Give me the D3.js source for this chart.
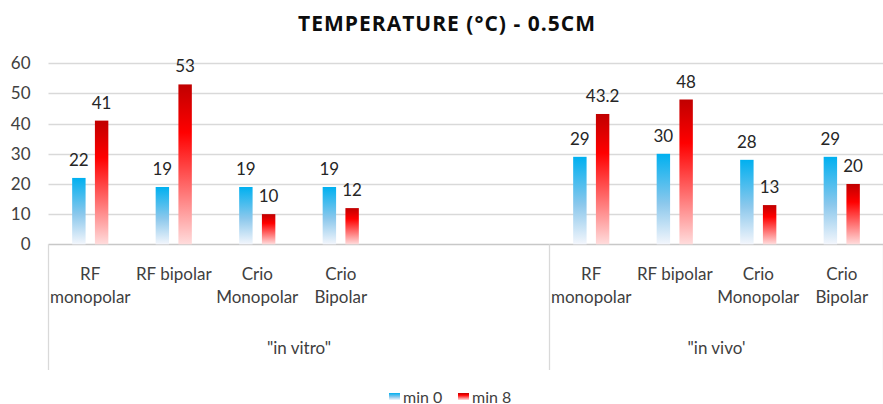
<!DOCTYPE html>
<html>
<head>
<meta charset="utf-8">
<script src="https://cdn.jsdelivr.net/npm/d3@7"></script>
<style>
  body { margin: 0; background: #fff; }
  svg text { font-family: Lato, "Open Sans", sans-serif; }
</style>
</head>
<body>
<div id="container"></div>
<script>
/* DATA */
const categories = ["RF\nmonopolar", "RF bipolar", "Crio\nMonopolar", "Crio\nBipolar", "", "",
                    "RF\nmonopolar", "RF bipolar", "Crio\nMonopolar", "Crio\nBipolar"];
const groupLabels = ['"in vitro"', '"in vivo\''];
const groupSizes = [6, 4];
const seriesNames = ["min 0", "min 8"];
const min0 = [22, 19, 19, 19, null, null, 29, 30, 28, 29];
const min8 = [41, 53, 10, 12, null, null, 43.2, 48, 13, 20];
const yTicks = [0, 10, 20, 30, 40, 50, 60];

/* CONSTANTS */
const width = 883;
const height = 404;
const plotLeft = 48.5, plotRight = 883.5, plotTop = 63.3, plotBottom = 244.3;

const svg = d3.select("#container")
  .append("svg")
  .attr("width", width)
  .attr("height", height)

/* GRADIENTS */
const defs = svg.append("defs")
const blue = defs.append("linearGradient").attr("id", "gBlue")
  .attr("x1", 0).attr("y1", 0).attr("x2", 0).attr("y2", 1)
blue.append("stop").attr("offset", "0%").attr("stop-color", "#00B0F0")
blue.append("stop").attr("offset", "55%").attr("stop-color", "#8CC8EC")
blue.append("stop").attr("offset", "100%").attr("stop-color", "#F3F6FC")
const red = defs.append("linearGradient").attr("id", "gRed")
  .attr("x1", 0).attr("y1", 0).attr("x2", 0).attr("y2", 1)
red.append("stop").attr("offset", "0%").attr("stop-color", "#C00000")
red.append("stop").attr("offset", "30%").attr("stop-color", "#FF0000")
red.append("stop").attr("offset", "100%").attr("stop-color", "#FFDCDC")
const fills = ["url(#gBlue)", "url(#gRed)"];

/* SCALES */
const keys = categories.map((c, i) => i);
const xScale = d3.scaleBand().domain(keys).range([plotLeft, plotRight]).padding(0)
const xInner = d3.scaleBand().domain([0, 1]).range([0, xScale.bandwidth()])
  .paddingInner(0.41).paddingOuter(1.04)
const yScale = d3.scaleLinear().domain([0, 60]).range([plotBottom, plotTop])

/* TITLE */
svg.append("text")
  .attr("x", 446.5).attr("y", 31)
  .attr("text-anchor", "middle")
  .style("font-family", "'Open Sans', sans-serif")
  .style("font-weight", "bold")
  .style("font-size", "21px")
  .attr("textLength", 297)
  .attr("lengthAdjust", "spacing")
  .attr("fill", "#0d0d0d")
  .text("TEMPERATURE (°C) - 0.5CM")

/* GRID */
svg.append("g")
  .selectAll("line")
  .data(yTicks)
  .join("line")
  .attr("x1", plotLeft).attr("x2", plotRight)
  .attr("y1", d => Math.round(yScale(d)) + 0.5)
  .attr("y2", d => Math.round(yScale(d)) + 0.5)
  .attr("stroke", d => d === 0 ? "#c8c8c8" : "#d9d9d9")
  .attr("stroke-width", 1.3)

/* Y AXIS */
const yAxis = d3.axisLeft(yScale).tickValues(yTicks).tickSize(0).tickPadding(18)
svg.append("g")
  .attr("transform", `translate(${plotLeft}, 0)`)
  .call(yAxis)
  .call(g => g.select(".domain").remove())
  .selectAll("text")
  .style("font-size", "17px")
  .style("font-family", "Lato, sans-serif")
  .attr("fill", "#404040")

/* BARS */
const series = [min0, min8];
series.forEach((vals, s) => {
  const pts = vals.map((v, i) => ({ i, v })).filter(d => d.v !== null)
  svg.selectAll(".bar" + s)
    .data(pts)
    .join("rect")
    .attr("class", "bar" + s)
    .attr("x", d => xScale(d.i) + xInner(s))
    .attr("y", d => yScale(d.v))
    .attr("width", xInner.bandwidth())
    .attr("height", d => yScale(0) - yScale(d.v))
    .attr("fill", fills[s])

  svg.selectAll(".lab" + s)
    .data(pts)
    .join("text")
    .attr("class", "lab" + s)
    .attr("x", d => xScale(d.i) + xInner(s) + xInner.bandwidth() / 2)
    .attr("y", d => yScale(d.v) - 12)
    .attr("text-anchor", "middle")
    .style("font-size", "17px")
    .attr("fill", "#262626")
    .text(d => d.v)
})

/* CATEGORY AXIS */
const axisBottom = 370;
let start = 0;
const bounds = [xScale(0)];
groupSizes.forEach(n => { start += n; bounds.push(xScale(start - 1) + xScale.bandwidth()) })
svg.append("g")
  .selectAll("line")
  .data(bounds)
  .join("line")
  .attr("x1", d => d).attr("x2", d => d)
  .attr("y1", plotBottom).attr("y2", axisBottom)
  .attr("stroke", "#d9d9d9")
  .attr("stroke-width", 1.3)

const catG = svg.append("g")
  .selectAll("text")
  .data(categories.map((c, i) => ({ c, i })).filter(d => d.c))
  .join("text")
  .attr("text-anchor", "middle")
  .style("font-size", "17px")
  .attr("fill", "#404040")
catG.selectAll("tspan")
  .data(d => d.c.split("\n").map(t => ({ t, i: d.i })))
  .join("tspan")
  .attr("x", d => xScale(d.i) + xScale.bandwidth() / 2)
  .attr("y", (d, k) => 280 + k * 22.5)
  .text(d => d.t)

svg.append("g")
  .selectAll("text")
  .data(groupLabels)
  .join("text")
  .attr("x", (d, g) => (bounds[g] + bounds[g + 1]) / 2)
  .attr("y", 354)
  .attr("text-anchor", "middle")
  .style("font-size", "17px")
  .attr("fill", "#404040")
  .text(d => d)

/* LEGEND */
const legendX = [389, 458];
const leg = svg.append("g")
  .selectAll("g")
  .data(seriesNames)
  .join("g")
  .attr("transform", (d, i) => `translate(${legendX[i]}, 393)`)
leg.append("rect")
  .attr("width", 11).attr("height", 7)
  .attr("fill", (d, i) => fills[i])
leg.append("text")
  .attr("x", 14).attr("y", 9.5)
  .style("font-size", "16px")
  .attr("fill", "#404040")
  .text(d => d)
</script>
</body>
</html>
